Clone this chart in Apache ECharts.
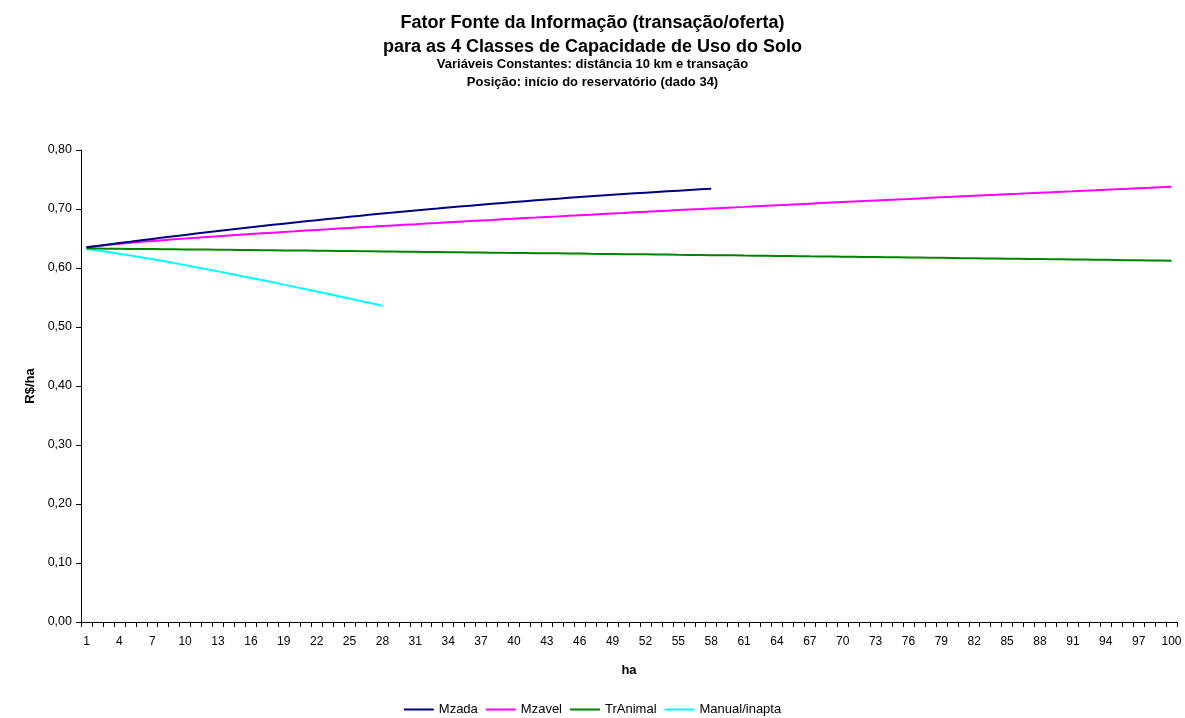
<!DOCTYPE html>
<html>
<head>
<meta charset="utf-8">
<script src="https://cdn.jsdelivr.net/npm/echarts@6/dist/echarts.min.js"></script>
<style>
  html, body { margin: 0; padding: 0; background: #fff; }
  #chart { width: 1185px; height: 718px; }
</style>
</head>
<body>
<div id="chart"></div>
<script>
// Área (ha): 1 .. 100
const categories = [];
for (let i = 1; i <= 100; i++) categories.push(String(i));

const mzada = [
  0.6350, 0.6374, 0.6399, 0.6423, 0.6446, 0.6470, 0.6493, 0.6516, 0.6539, 0.6561,
  0.6583, 0.6605, 0.6627, 0.6649, 0.6670, 0.6691, 0.6711, 0.6732, 0.6752, 0.6772,
  0.6792, 0.6811, 0.6830, 0.6849, 0.6868, 0.6886, 0.6905, 0.6923, 0.6940, 0.6958,
  0.6975, 0.6992, 0.7008, 0.7025, 0.7041, 0.7057, 0.7073, 0.7088, 0.7103, 0.7118,
  0.7133, 0.7147, 0.7161, 0.7175, 0.7189, 0.7202, 0.7215, 0.7228, 0.7241, 0.7253,
  0.7265, 0.7277, 0.7289, 0.7300, 0.7311, 0.7322, 0.7333, 0.7343
];

const mzavel = [
  0.6350, 0.6374, 0.6395, 0.6412, 0.6428, 0.6443, 0.6458, 0.6472, 0.6486, 0.6499,
  0.6513, 0.6526, 0.6538, 0.6551, 0.6563, 0.6575, 0.6587, 0.6599, 0.6611, 0.6622,
  0.6634, 0.6645, 0.6656, 0.6668, 0.6679, 0.6690, 0.6700, 0.6711, 0.6722, 0.6733,
  0.6743, 0.6754, 0.6764, 0.6775, 0.6785, 0.6795, 0.6805, 0.6815, 0.6826, 0.6836,
  0.6846, 0.6855, 0.6865, 0.6875, 0.6885, 0.6895, 0.6904, 0.6914, 0.6924, 0.6933,
  0.6943, 0.6952, 0.6962, 0.6971, 0.6981, 0.6990, 0.6999, 0.7009, 0.7018, 0.7027,
  0.7036, 0.7046, 0.7055, 0.7064, 0.7073, 0.7082, 0.7091, 0.7100, 0.7109, 0.7118,
  0.7127, 0.7136, 0.7145, 0.7154, 0.7163, 0.7171, 0.7180, 0.7189, 0.7198, 0.7206,
  0.7215, 0.7224, 0.7233, 0.7241, 0.7250, 0.7258, 0.7267, 0.7276, 0.7284, 0.7293,
  0.7301, 0.7310, 0.7318, 0.7327, 0.7335, 0.7343, 0.7352, 0.7360, 0.7369, 0.7377
];

const trAnimal = [
  0.6330, 0.6329, 0.6327, 0.6326, 0.6324, 0.6322, 0.6321, 0.6319, 0.6317, 0.6315,
  0.6313, 0.6312, 0.6310, 0.6308, 0.6306, 0.6304, 0.6302, 0.6300, 0.6298, 0.6297,
  0.6295, 0.6293, 0.6291, 0.6289, 0.6287, 0.6285, 0.6283, 0.6281, 0.6279, 0.6277,
  0.6275, 0.6273, 0.6271, 0.6269, 0.6267, 0.6264, 0.6262, 0.6260, 0.6258, 0.6256,
  0.6254, 0.6252, 0.6250, 0.6248, 0.6246, 0.6244, 0.6241, 0.6239, 0.6237, 0.6235,
  0.6233, 0.6231, 0.6229, 0.6227, 0.6224, 0.6222, 0.6220, 0.6218, 0.6216, 0.6214,
  0.6211, 0.6209, 0.6207, 0.6205, 0.6203, 0.6201, 0.6198, 0.6196, 0.6194, 0.6192,
  0.6190, 0.6187, 0.6185, 0.6183, 0.6181, 0.6178, 0.6176, 0.6174, 0.6172, 0.6170,
  0.6167, 0.6165, 0.6163, 0.6161, 0.6158, 0.6156, 0.6154, 0.6152, 0.6149, 0.6147,
  0.6145, 0.6143, 0.6140, 0.6138, 0.6136, 0.6133, 0.6131, 0.6129, 0.6127, 0.6124
];

const manualInapta = [
  0.6320, 0.6298, 0.6272, 0.6243, 0.6213, 0.6182, 0.6150, 0.6117, 0.6083, 0.6049,
  0.6014, 0.5978, 0.5943, 0.5906, 0.5869, 0.5832, 0.5795, 0.5757, 0.5718, 0.5680,
  0.5641, 0.5602, 0.5562, 0.5522, 0.5482, 0.5442, 0.5401, 0.5361
];

const seriesNames = ['Mzada', 'Mzavel', 'TrAnimal', 'Manual/inapta'];
const seriesColors = ['#000080', '#FF00FF', '#008000', '#00FFFF'];
const seriesData = [mzada, mzavel, trAnimal, manualInapta];

const FONT = '"Liberation Sans", Arial, sans-serif';

const chart = echarts.init(document.getElementById('chart'), null, { renderer: 'canvas' });

chart.setOption({
  backgroundColor: '#ffffff',
  animation: false,
  title: [
    {
      text: 'Fator Fonte da Informação (transação/oferta)\npara as 4 Classes de Capacidade de Uso do Solo',
      left: 'center',
      top: 6,
      textStyle: { fontFamily: FONT, fontSize: 18, fontWeight: 'bold', color: '#000', lineHeight: 24 }
    },
    {
      text: 'Variáveis Constantes: distância 10 km e transação\nPosição: início do reservatório (dado 34)',
      left: 'center',
      top: 50,
      textStyle: { fontFamily: FONT, fontSize: 13, fontWeight: 'bold', color: '#000', lineHeight: 18 }
    }
  ],
  legend: {
    data: seriesNames,
    bottom: -3,
    left: 'center',
    icon: 'rect',
    itemWidth: 30,
    itemHeight: 2,
    itemGap: 8,
    textStyle: { fontFamily: FONT, fontSize: 13, color: '#000' }
  },
  grid: { left: 81, right: 8, top: 150, bottom: 96, containLabel: false },
  xAxis: {
    type: 'category',
    data: categories,
    boundaryGap: true,
    name: 'ha',
    nameLocation: 'middle',
    nameGap: 42,
    nameTextStyle: { fontFamily: FONT, fontSize: 13, fontWeight: 'bold', color: '#000' },
    axisLine: { lineStyle: { color: '#000', width: 1 } },
    axisTick: { show: true, interval: 0, length: 5, lineStyle: { color: '#000' } },
    axisLabel: { interval: 2, fontFamily: FONT, fontSize: 12, color: '#000', margin: 14 },
    splitLine: { show: false }
  },
  yAxis: {
    type: 'value',
    min: 0,
    max: 0.8,
    interval: 0.1,
    name: 'R$/ha',
    nameLocation: 'middle',
    nameGap: 44,
    nameRotate: 90,
    nameTextStyle: { fontFamily: FONT, fontSize: 13, fontWeight: 'bold', color: '#000' },
    axisLine: { show: true, lineStyle: { color: '#000', width: 1 } },
    axisTick: { show: true, length: 5, lineStyle: { color: '#000' } },
    axisLabel: {
      fontFamily: FONT, fontSize: 12.5, color: '#000', margin: 9,
      formatter: v => v.toFixed(2).replace('.', ',')
    },
    splitLine: { show: false }
  },
  series: seriesNames.map((name, i) => ({
    name: name,
    type: 'line',
    data: seriesData[i],
    showSymbol: false,
    symbol: 'none',
    smooth: false,
    lineStyle: { color: seriesColors[i], width: 2 },
    itemStyle: { color: seriesColors[i] },
    z: 10 - i
  }))
});
</script>
</body>
</html>
